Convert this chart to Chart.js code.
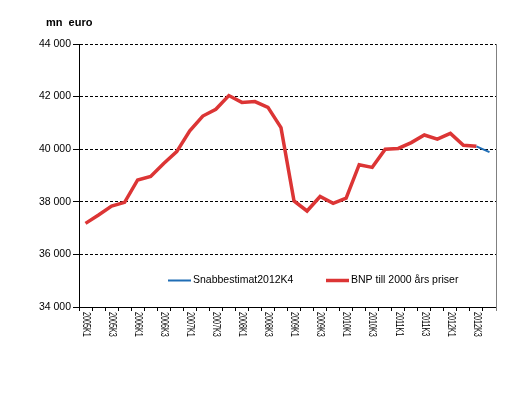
<!DOCTYPE html>
<html>
<head>
<meta charset="utf-8">
<script src="https://cdn.jsdelivr.net/npm/chart.js@4.4.1/dist/chart.umd.min.js"></script>
<style>
  html, body { margin: 0; padding: 0; background: #fff; }
  #wrap { width: 516px; height: 396px; }
</style>
</head>
<body>
<div id="wrap"><canvas id="c" width="516" height="396"></canvas></div>
<script>
const categories = [
  '2005K1','2005K2','2005K3','2005K4',
  '2006K1','2006K2','2006K3','2006K4',
  '2007K1','2007K2','2007K3','2007K4',
  '2008K1','2008K2','2008K3','2008K4',
  '2009K1','2009K2','2009K3','2009K4',
  '2010K1','2010K2','2010K3','2010K4',
  '2011K1','2011K2','2011K3','2011K4',
  '2012K1','2012K2','2012K3','2012K4'
];
const bnpValues = [
  37180, 37500, 37840, 37980,
  38830, 38960, 39460, 39910,
  40700, 41260, 41520, 42040,
  41780, 41810, 41590, 40820,
  38030, 37650, 38200, 37940,
  38140, 39410, 39310, 40000,
  40030, 40250, 40540, 40380,
  40600, 40150, 40110, null
];
const snabbValues = [
  null, null, null, null, null, null, null, null,
  null, null, null, null, null, null, null, null,
  null, null, null, null, null, null, null, null,
  null, null, null, null, null, null, 40110, 39890
];
const seriesNames = ['Snabbestimat2012K4', 'BNP till 2000 års priser'];
const yTicks = [34000, 36000, 38000, 40000, 42000, 44000];
const unitLabel = 'mn  euro';

const FONT = '"Liberation Sans", Arial, sans-serif';
const RED = '#DC3535';
const BLUE = '#1F6DB5';

function fmt(v) {
  return String(v).replace(/\B(?=(\d{3})+(?!\d))/g, ' ');
}

const decor = {
  id: 'decor',
  afterDraw(chart) {
    const ctx = chart.ctx;
    const a = chart.chartArea;
    const xs = chart.scales.x;
    ctx.save();
    // right gray border
    ctx.strokeStyle = '#808080';
    ctx.lineWidth = 1;
    ctx.beginPath();
    ctx.moveTo(Math.round(a.right) + 0.5, a.top);
    ctx.lineTo(Math.round(a.right) + 0.5, a.bottom + 4);
    ctx.stroke();

    // unit title
    ctx.fillStyle = '#000';
    ctx.font = 'bold 11px ' + FONT;
    ctx.textAlign = 'left';
    ctx.textBaseline = 'middle';
    ctx.fillText(unitLabel, 46, 23);

    // x labels, rotated clockwise, every other quarter
    ctx.font = '10px ' + FONT;
    categories.forEach((lab, i) => {
      if (i % 2 !== 0) return;
      const x = xs.getPixelForValue(i);
      ctx.save();
      ctx.translate(x, a.bottom + 5);
      ctx.rotate(Math.PI / 2);
      ctx.scale(0.72, 1);
      ctx.textAlign = 'left';
      ctx.textBaseline = 'middle';
      ctx.fillText(lab, 0, 0);
      ctx.restore();
    });

    // legend
    const ly = 280.5;
    ctx.font = '10.5px ' + FONT;
    ctx.textBaseline = 'middle';
    ctx.lineCap = 'butt';
    ctx.strokeStyle = BLUE;
    ctx.lineWidth = 2;
    ctx.beginPath(); ctx.moveTo(168, ly); ctx.lineTo(191, ly); ctx.stroke();
    ctx.fillText(seriesNames[0], 193, ly);
    ctx.strokeStyle = RED;
    ctx.lineWidth = 3.5;
    ctx.beginPath(); ctx.moveTo(326, ly); ctx.lineTo(349, ly); ctx.stroke();
    ctx.fillText(seriesNames[1], 351, ly);
    ctx.restore();
  }
};

new Chart(document.getElementById('c'), {
  type: 'line',
  data: {
    labels: categories,
    datasets: [
      {
        label: seriesNames[0],
        data: snabbValues,
        borderColor: BLUE,
        backgroundColor: BLUE,
        borderWidth: 2,
        pointRadius: 0,
        tension: 0,
        order: 1
      },
      {
        label: seriesNames[1],
        data: bnpValues,
        borderColor: RED,
        backgroundColor: RED,
        borderWidth: 3.5,
        pointRadius: 0,
        tension: 0,
        order: 2
      }
    ]
  },
  options: {
    responsive: false,
    animation: false,
    events: [],
    layout: { padding: { top: 44, right: 20, left: 0, bottom: 0 } },
    plugins: {
      legend: { display: false },
      tooltip: { enabled: false },
      title: { display: false }
    },
    scales: {
      x: {
        offset: true,
        grid: {
          offset: true,
          drawOnChartArea: false,
          drawTicks: true,
          tickLength: 4,
          color: '#000',
          tickColor: '#000'
        },
        border: { display: true, color: '#000', width: 1 },
        ticks: { display: false, autoSkip: false },
        afterFit(s) { s.height = 89; }
      },
      y: {
        min: 34000,
        max: 44000,
        afterBuildTicks(s) { s.ticks = yTicks.map(v => ({ value: v })); },
        grid: {
          drawOnChartArea: true,
          drawTicks: true,
          tickLength: 6,
          color: '#000',
          tickColor: '#000',
          lineWidth: 1,
          tickBorderDash: []
        },
        border: { display: true, color: '#000', width: 1, dash: [3, 2] },
        ticks: {
          padding: 2,
          color: '#000',
          font: { family: FONT, size: 10.5 },
          callback: v => fmt(v)
        },
        afterFit(s) { s.width = 79; }
      }
    }
  },
  plugins: [decor]
});
</script>
</body>
</html>
